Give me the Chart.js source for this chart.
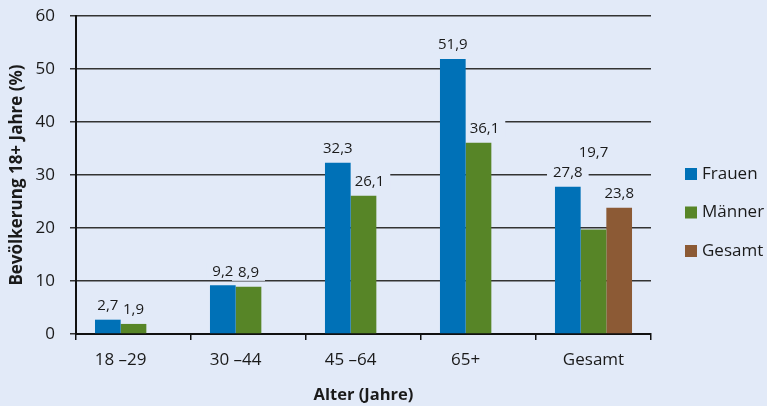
<!DOCTYPE html>
<html lang="de">
<head>
  <meta charset="UTF-8" />
  <title>Bevölkerung 18+ nach Alter</title>
  <script src="https://cdn.jsdelivr.net/npm/chart.js"></script>
  <style>
    html, body { margin: 0; padding: 0; background: #e2eaf8; }
    #wrap { width: 767px; height: 406px; position: relative; }
  </style>
</head>
<body>
  <div id="wrap"><canvas id="chart"></canvas></div>

  <script>
    // data
    const categories = ["18 \u201329", "30 \u201344", "45 \u201364", "65+", "Gesamt"];
    const frauen = [2.7, 9.2, 32.3, 51.9, 27.8];
    const maenner = [1.9, 8.9, 26.1, 36.1, 19.7];
    const gesamt = [null, null, null, null, 23.8];
    const seriesNames = ["Frauen", "Männer", "Gesamt"];
    const seriesColors = ["#0071b7", "#578527", "#8c5a35"];
    const yTicks = [0, 10, 20, 30, 40, 50, 60];

    const BG = "#e2eaf8";
    const INK = "#1a1a1a";
    const FONT = "'Open Sans', sans-serif";
    const LABEL_FONT = "15px " + FONT;

    function labelSpots(chart) {
      const ctx = chart.ctx;
      ctx.save();
      ctx.font = LABEL_FONT;
      const spots = [];
      const placed = {};
      chart.data.datasets.forEach((ds, di) => {
        chart.getDatasetMeta(di).data.forEach((bar, i) => {
          const v = ds.data[i];
          if (v == null) return;
          const txt = v.toFixed(1).replace(".", ",");
          const w = ctx.measureText(txt).width;
          let x = bar.x;
          let y = bar.y - 14;
          // the Männer/Gesamt label sits above the Frauen one in the original
          if (di === 1 && i === categories.length - 1 && placed[i] != null) {
            y = placed[i] - 20;
          } else if (di > 0) {
            // push right if the text would run into a taller bar on the left
            const prev = chart.getDatasetMeta(di - 1).data[i];
            const pv = chart.data.datasets[di - 1].data[i];
            const prevRight = prev.x + prev.width / 2;
            if (pv != null && prev.y < y + 8 && x - w / 2 < prevRight + 4) x = prevRight + 4 + w / 2;
          }
          if (di === 0) placed[i] = y;
          spots.push({ x: x, y: y, w: w, txt: txt });
        });
      });
      ctx.restore();
      return spots;
    }

    // value labels: a background box cuts the gridlines (drawn under the bars), text on top
    const valueLabels = {
      id: "valueLabels",
      beforeDatasetsDraw(chart) {
        const ctx = chart.ctx;
        ctx.save();
        ctx.fillStyle = BG;
        labelSpots(chart).forEach(s => ctx.fillRect(s.x - s.w / 2 - 6, s.y - 8, s.w + 12, 16));
        ctx.restore();
      },
      afterDatasetsDraw(chart) {
        const ctx = chart.ctx;
        ctx.save();
        ctx.font = LABEL_FONT;
        ctx.textAlign = "center";
        ctx.textBaseline = "middle";
        ctx.fillStyle = INK;
        labelSpots(chart).forEach(s => ctx.fillText(s.txt, s.x, s.y));
        ctx.restore();
      }
    };

    // category names sit under the bars that exist, not under the category middle
    const categoryLabels = {
      id: "categoryLabels",
      afterDraw(chart) {
        const ctx = chart.ctx;
        const y = chart.scales.x.top + 26;
        ctx.save();
        ctx.font = "17px " + FONT;
        ctx.textAlign = "center";
        ctx.textBaseline = "middle";
        ctx.fillStyle = INK;
        categories.forEach((name, i) => {
          const xs = [];
          chart.data.datasets.forEach((ds, di) => {
            if (ds.data[i] != null) xs.push(chart.getDatasetMeta(di).data[i].x);
          });
          const x = xs.reduce((a, b) => a + b, 0) / xs.length;
          ctx.fillText(name, x, y);
        });
        ctx.restore();
      }
    };

    // legend on the right
    const sideLegend = {
      id: "sideLegend",
      afterDraw(chart) {
        const ctx = chart.ctx;
        ctx.save();
        ctx.font = "17px " + FONT;
        ctx.textBaseline = "middle";
        seriesNames.forEach((name, k) => {
          const cy = 174 + k * 38.5;
          ctx.fillStyle = seriesColors[k];
          ctx.fillRect(685, cy - 6, 12, 12);
          ctx.fillStyle = INK;
          ctx.fillText(name, 702, cy);
        });
        ctx.restore();
      }
    };

    new Chart(document.getElementById("chart"), {
      type: "bar",
      data: {
        labels: categories,
        datasets: [
          { label: seriesNames[0], data: frauen, backgroundColor: seriesColors[0] },
          { label: seriesNames[1], data: maenner, backgroundColor: seriesColors[1] },
          { label: seriesNames[2], data: gesamt, backgroundColor: seriesColors[2] }
        ]
      },
      options: {
        responsive: true,
        maintainAspectRatio: false,
        animation: false,
        categoryPercentage: 0.67,
        barPercentage: 1.0,
        layout: { padding: { top: 16, right: 116, left: 0, bottom: 0 } },
        plugins: { legend: { display: false }, tooltip: { enabled: false } },
        scales: {
          x: {
            grid: { drawOnChartArea: false, drawTicks: true, tickLength: 6, color: "#111", lineWidth: 1.5 },
            border: { display: true, color: "#111", width: 2 },
            ticks: { display: false },
            title: {
              display: true, text: "Alter (Jahre)", color: INK,
              font: { family: FONT, size: 16.5, weight: "bold" }, padding: { top: 0, bottom: 1 }
            },
            afterFit: s => { s.height = 72; s.paddingLeft = 0; s.paddingRight = 0; }
          },
          y: {
            min: 0,
            max: 60,
            afterBuildTicks: s => { s.ticks = yTicks.map(v => ({ value: v })); },
            grid: { color: "#333", lineWidth: 1.5, tickLength: 6 },
            border: { display: true, color: "#111", width: 2 },
            ticks: { color: INK, font: { family: FONT, size: 17 }, padding: 15 },
            title: {
              display: true, text: "Bevölkerung 18+ Jahre (%)", color: INK,
              font: { family: FONT, size: 17, weight: "bold" }, padding: { top: 7, bottom: 0 }
            },
            afterFit: s => { s.width = 76; s.paddingTop = 0; s.paddingBottom = 0; }
          }
        }
      },
      plugins: [valueLabels, categoryLabels, sideLegend]
    });
  </script>
</body>
</html>
